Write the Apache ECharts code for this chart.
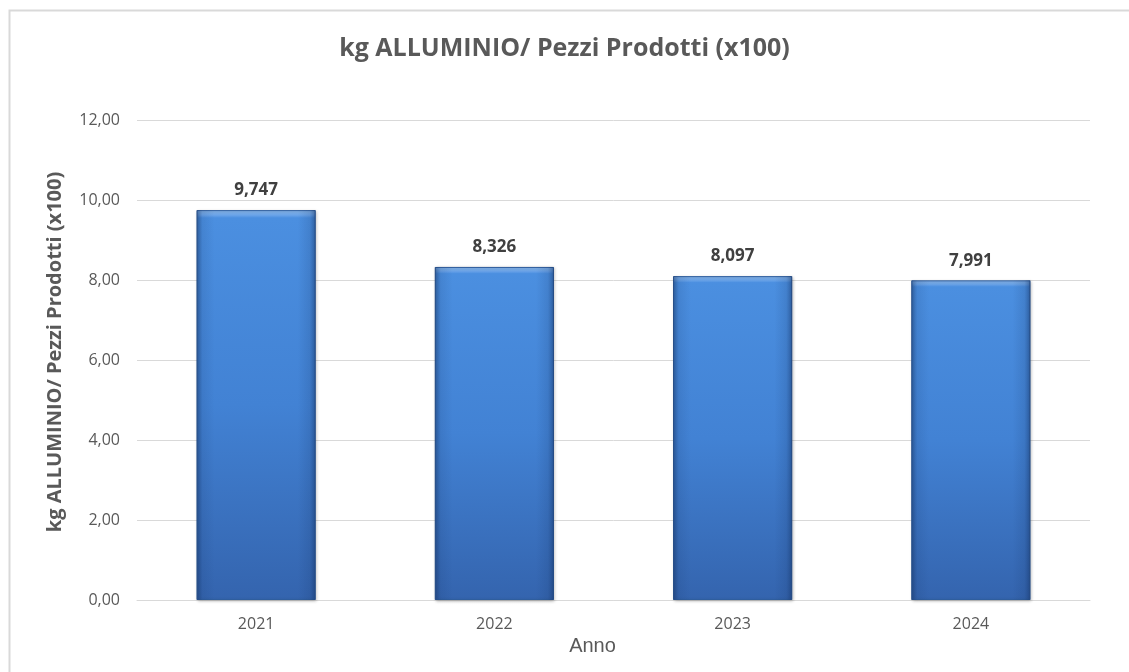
<!DOCTYPE html>
<html>
<head>
<meta charset="utf-8">
<script src="https://cdn.jsdelivr.net/npm/echarts@6/dist/echarts.min.js"></script>
<style>
html,body{margin:0;padding:0;background:#fff;}
#c{width:1129px;height:672px;}
</style>
</head>
<body>
<div id="c"></div>
<script>
const categories = ['2021', '2022', '2023', '2024'];
const values = [9.747, 8.326, 8.097, 7.991];
const yTicks = [0, 2, 4, 6, 8, 10, 12];

const chart = echarts.init(document.getElementById('c'), null, {renderer: 'canvas'});
const baseColor = new echarts.graphic.LinearGradient(0, 0, 0, 1, [
  {offset: 0, color: '#8cbcf2'},
  {offset: 0.012, color: '#6ea6ea'},
  {offset: 0.02, color: '#4b8fe0'},
  {offset: 0.5, color: '#4282d4'},
  {offset: 1, color: '#3464ae'}
]);
const edgeColor = new echarts.graphic.LinearGradient(0, 0, 1, 0, [
  {offset: 0, color: 'rgba(20,50,100,0.45)'},
  {offset: 0.05, color: 'rgba(20,50,100,0.12)'},
  {offset: 0.15, color: 'rgba(20,50,100,0)'},
  {offset: 0.85, color: 'rgba(20,50,100,0)'},
  {offset: 0.95, color: 'rgba(20,50,100,0.15)'},
  {offset: 1, color: 'rgba(20,50,100,0.5)'}
]);
const fmt = v => v.toFixed(3).replace('.', ',');
chart.setOption({
  animation: false,
  backgroundColor: '#ffffff',
  graphic: [{
    type: 'rect', left: 7, top: 8,
    shape: {width: 1140, height: 700},
    style: {fill: 'none', stroke: '#d9d9d9', lineWidth: 2},
    silent: true
  }],
  title: {
    text: 'kg ALLUMINIO/ Pezzi Prodotti (x100)',
    left: 'center', top: 31,
    textStyle: {fontFamily: 'Open Sans', fontWeight: 'bold', fontSize: 25, color: '#595959'}
  },
  grid: {left: 137, right: 39, top: 120, bottom: 72},
  xAxis: {
    type: 'category', data: categories,
    name: 'Anno', nameLocation: 'middle', nameGap: 32,
    nameTextStyle: {fontFamily: 'Liberation Sans', fontSize: 20, color: '#595959', padding: [0, 42, 0, 0]},
    axisLine: {lineStyle: {color: '#d9d9d9', width: 1}},
    axisTick: {show: false},
    axisLabel: {fontFamily: 'Open Sans', fontSize: 16, color: '#595959', margin: 16}
  },
  yAxis: {
    type: 'value', min: 0, max: 12, interval: 2,
    name: 'kg ALLUMINIO/ Pezzi Prodotti (x100)', nameLocation: 'middle', nameGap: 72,
    nameTextStyle: {fontFamily: 'Open Sans', fontWeight: 'bold', fontSize: 20, color: '#595959', padding: [0, 0, 0, 16]},
    axisLine: {show: false}, axisTick: {show: false},
    splitLine: {lineStyle: {color: '#d9d9d9', width: 1}},
    axisLabel: {
      fontFamily: 'Open Sans', fontSize: 16, color: '#595959', margin: 17,
      formatter: v => yTicks.includes(v) ? v.toFixed(2).replace('.', ',') : ''
    }
  },
  series: [{
    type: 'bar', data: values, barWidth: '50%', z: 2,
    itemStyle: {
      color: baseColor,
      borderColor: '#2f5e9e', borderWidth: 1,
      shadowColor: 'rgba(0,0,0,0.25)', shadowBlur: 3, shadowOffsetX: 1, shadowOffsetY: 1
    },
    label: {
      show: true, position: 'top', distance: 11,
      formatter: p => fmt(p.value),
      fontFamily: 'Open Sans', fontWeight: 'bold', fontSize: 17, color: '#404040'
    }
  }, {
    type: 'bar', data: values, barGap: '-100%', barWidth: '50%', z: 3, silent: true,
    itemStyle: {color: edgeColor}
  }]
});
</script>
</body>
</html>
